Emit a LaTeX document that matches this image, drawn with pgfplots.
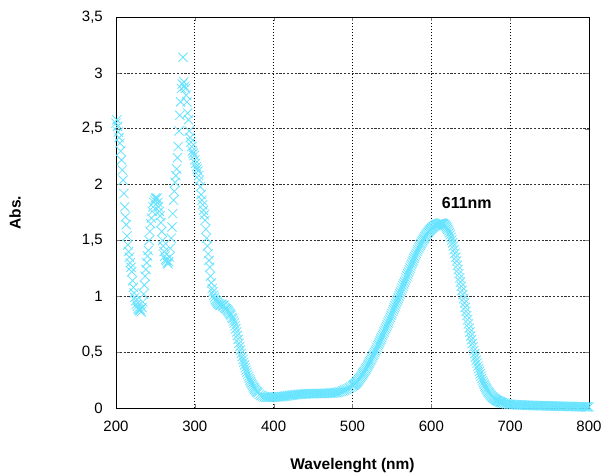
\documentclass[border=0pt]{standalone}
\usepackage{fontspec}
\setmainfont{Liberation Sans}
\usepackage{pgfplots}
\pgfplotsset{compat=1.18}
\usetikzlibrary{calc}
\definecolor{specblue}{HTML}{66E3FF}
\pgfplotsset{spec/.style={specblue, only marks, mark=x, mark size=6.5pt, line width=0.8pt}}
\begin{document}
\fontsize{15}{17}\selectfont
\begin{tikzpicture}
\begin{axis}[
  scale only axis, width=473pt, height=391pt,
  xmin=200, xmax=800, ymin=0, ymax=3.5,
  xtick={200,300,400,500,600,700,800},
  ytick={0,0.5,1,1.5,2,2.5,3,3.5},
  tick align=inside, major tick length=4pt,
  xmajorgrids, ymajorgrids,
  x grid style={black, line width=0.7pt, dash pattern=on 1pt off 2pt},
  y grid style={black!80, line width=0.7pt, dash pattern=on 2.2pt off 1.6pt},
  axis line style={black, line width=0.9pt},
  /pgf/number format/assume math mode=true,
  /pgf/number format/use comma,
  tick label style={font=\fontsize{15}{17}\selectfont},
  xticklabel style={yshift=-8pt},
  yticklabel style={xshift=-8pt},
  xlabel={\bfseries Wavelenght (nm)},
  ylabel={\bfseries Abs.},
  xlabel style={font=\fontsize{15.5}{17}\selectfont, at={(axis description cs:0.5,-0.148)}, anchor=center},
  ylabel style={font=\fontsize{15.5}{17}\selectfont, at={(axis description cs:-0.2135,0.5)}, anchor=center},
  clip=false,
]
% main readings
\addplot[spec] coordinates {
(200,2.55)(201,2.58)(202,2.52)(203,2.47)(204,2.42)(205,2.37)(206,2.30)(207,2.22)(208,2.13)(209,2.04)
(210,1.92)(211,1.80)(212,1.71)(213,1.64)(214,1.54)(215,1.46)(216,1.40)(217,1.35)(218,1.30)(219,1.26)
(220,1.22)(221,1.14)(222,1.08)(223,1.03)(224,0.99)(225,0.96)(226,0.93)(227,0.91)(228,0.89)(229,0.88)
(230,0.87)(231,0.88)(232,0.86)(233,0.90)(234,0.95)(235,1.02)(236,1.10)(237,1.18)(238,1.24)(239,1.30)
(240,1.36)(241,1.41)(242,1.50)(243,1.58)(244,1.65)(245,1.70)(246,1.76)(247,1.80)(248,1.84)(249,1.86)
(250,1.88)(251,1.87)(252,1.88)(253,1.84)(254,1.80)(255,1.76)(256,1.72)(257,1.66)(258,1.58)(259,1.50)
(260,1.45)(261,1.40)(262,1.36)(263,1.33)(264,1.32)(265,1.30)(266,1.29)(267,1.31)(268,1.35)(269,1.43)
(270,1.52)(271,1.62)(272,1.74)(273,1.86)(274,1.94)(275,2.02)(276,2.08)(277,2.14)(278,2.24)(279,2.34)
(280,2.48)(281,2.62)(282,2.74)(283,2.86)(284,2.90)(285,3.14)(286,2.92)(287,2.88)(288,2.86)(289,2.80)
(290,2.74)(291,2.64)(292,2.58)(293,2.48)(294,2.42)(295,2.38)(296,2.34)(297,2.30)(298,2.28)(299,2.26)
(300,2.22)(301,2.19)(302,2.16)(303,2.14)(304,2.12)(305,2.08)(306,2.04)(307,1.98)(308,1.91)(309,1.86)
(310,1.82)(311,1.77)(312,1.73)(313,1.68)(314,1.60)(315,1.52)(316,1.45)(317,1.38)(318,1.32)(319,1.26)
(320,1.18)(321,1.12)(322,1.07)(323,1.04)(324,1.01)(325,0.99)(326,0.97)(327,0.96)(328,0.95)(329,0.94)
(330,0.93)(331,0.93)(332,0.92)(333,0.92)(334,0.93)(335,0.92)(336,0.91)(337,0.92)(338,0.90)(339,0.89)
(340,0.89)(341,0.88)(342,0.87)(343,0.86)(344,0.85)(345,0.84)(346,0.83)(347,0.81)(348,0.80)(349,0.78)
(350,0.76)(352,0.71)(354,0.65)(356,0.58)(358,0.52)(360,0.46)(362,0.41)(364,0.36)(366,0.32)(368,0.28)
(370,0.25)(372,0.22)(374,0.19)(376,0.17)(378,0.15)(380,0.135)(382,0.122)(384,0.112)(386,0.105)(388,0.100)
(390,0.097)(392,0.095)(394,0.095)(396,0.095)(398,0.096)(400,0.097)(402,0.098)(404,0.099)(406,0.100)(408,0.101)
(410,0.102)(412,0.104)(414,0.106)(416,0.108)(418,0.110)(420,0.112)(422,0.114)(424,0.116)(426,0.118)(428,0.120)
(430,0.121)(432,0.122)(434,0.123)(436,0.124)(438,0.125)(440,0.126)(442,0.127)(444,0.128)(446,0.128)(448,0.129)
(450,0.129)(452,0.130)(454,0.130)(456,0.130)(458,0.130)(460,0.130)(462,0.130)(464,0.130)(466,0.131)(468,0.131)
(470,0.132)(472,0.133)(474,0.134)(476,0.135)(478,0.137)(480,0.139)(482,0.142)(484,0.145)(486,0.149)(488,0.154)
(490,0.160)(492,0.166)(494,0.173)(496,0.180)(498,0.188)(500,0.197)(502,0.208)(504,0.220)(506,0.235)(508,0.252)
(510,0.272)(512,0.293)(514,0.315)(516,0.338)(518,0.362)(520,0.387)(522,0.413)(524,0.440)(526,0.468)(528,0.497)
(530,0.526)(532,0.556)(534,0.586)(536,0.617)(538,0.648)(540,0.680)(542,0.712)(544,0.745)(546,0.778)(548,0.812)
(550,0.846)(552,0.880)(554,0.915)(556,0.950)(558,0.985)(560,1.020)(562,1.056)(564,1.092)(566,1.128)(568,1.164)
(570,1.200)(572,1.236)(574,1.271)(576,1.305)(578,1.338)(580,1.370)(582,1.401)(584,1.431)(586,1.459)(588,1.486)
(590,1.511)(592,1.534)(594,1.555)(596,1.574)(598,1.591)(600,1.606)(602,1.619)(604,1.630)(606,1.639)(608,1.646)
(610,1.650)(612,1.655)(614,1.652)(616,1.645)(618,1.632)(620,1.612)(622,1.585)(624,1.550)(626,1.505)(628,1.450)
(630,1.385)(632,1.315)(634,1.240)(636,1.165)(638,1.090)(640,1.015)(642,0.940)(644,0.865)(646,0.790)(648,0.715)
(650,0.645)(652,0.578)(654,0.515)(656,0.456)(658,0.402)(660,0.352)(662,0.306)(664,0.265)(666,0.229)(668,0.197)
(670,0.170)(672,0.146)(674,0.126)(676,0.109)(678,0.095)(680,0.083)(682,0.073)(684,0.065)(686,0.058)(688,0.052)
(690,0.047)(692,0.043)(694,0.040)(696,0.037)(698,0.035)(700,0.033)(702,0.032)(704,0.031)(706,0.030)(708,0.029)
(710,0.028)(712,0.027)(714,0.027)(716,0.026)(718,0.026)(720,0.025)(722,0.025)(724,0.024)(726,0.024)(728,0.023)
(730,0.023)(732,0.022)(734,0.022)(736,0.021)(738,0.021)(740,0.020)(742,0.020)(744,0.020)(746,0.019)(748,0.019)
(750,0.018)(752,0.018)(754,0.018)(756,0.017)(758,0.017)(760,0.016)(762,0.016)(764,0.016)(766,0.015)(768,0.015)
(770,0.015)(772,0.014)(774,0.014)(776,0.014)(778,0.013)(780,0.013)(782,0.013)(784,0.012)(786,0.012)(788,0.012)
(790,0.011)(792,0.011)(794,0.011)(796,0.010)(798,0.010)(800,0.010)
};
% odd-nm readings on the steep flanks
\addplot[spec] coordinates {
(351,0.735)(353,0.68)(355,0.615)(357,0.55)(359,0.49)(361,0.435)(363,0.385)(365,0.34)(367,0.30)(369,0.265)
(371,0.235)(373,0.205)(375,0.18)(377,0.16)(379,0.142)
(501,0.202)(503,0.214)(505,0.227)(507,0.243)(509,0.262)(511,0.282)(513,0.304)(515,0.326)(517,0.350)(519,0.374)
(521,0.400)(523,0.426)(525,0.454)(527,0.482)(529,0.511)(531,0.541)(533,0.571)(535,0.601)(537,0.632)(539,0.664)
(541,0.696)(543,0.728)(545,0.761)(547,0.795)(549,0.829)(551,0.863)(553,0.897)(555,0.932)(557,0.967)(559,1.002)
(561,1.038)(563,1.074)(565,1.110)(567,1.146)(569,1.182)(571,1.218)(573,1.253)(575,1.288)(577,1.321)(579,1.354)
(581,1.385)(583,1.416)(585,1.445)(587,1.472)(589,1.498)(591,1.522)(593,1.544)(595,1.564)(597,1.582)(599,1.598)
(601,1.612)(603,1.624)(605,1.634)(607,1.642)(609,1.648)(611,1.653)(613,1.654)(615,1.649)(617,1.639)(619,1.622)
(621,1.599)(623,1.568)(625,1.528)(627,1.478)(629,1.418)(631,1.350)(633,1.278)(635,1.202)(637,1.128)(639,1.052)
(641,0.978)(643,0.902)(645,0.828)(647,0.752)(649,0.680)(651,0.611)(653,0.546)(655,0.485)(657,0.428)(659,0.376)
(661,0.328)(663,0.285)(665,0.246)(667,0.212)(669,0.183)(671,0.158)(673,0.136)(675,0.117)(677,0.102)(679,0.089)
(681,0.078)(683,0.069)(685,0.061)(687,0.055)(689,0.049)
};
\node[font=\bfseries\fontsize{16}{18}\selectfont] at (axis cs:645,1.835) {611nm};
\end{axis}
\pgfresetboundingbox
\path ($(current axis.south west)+(-116pt,-67pt)$) rectangle ($(current axis.north east)+(13pt,17pt)$);
\end{tikzpicture}
\end{document}
